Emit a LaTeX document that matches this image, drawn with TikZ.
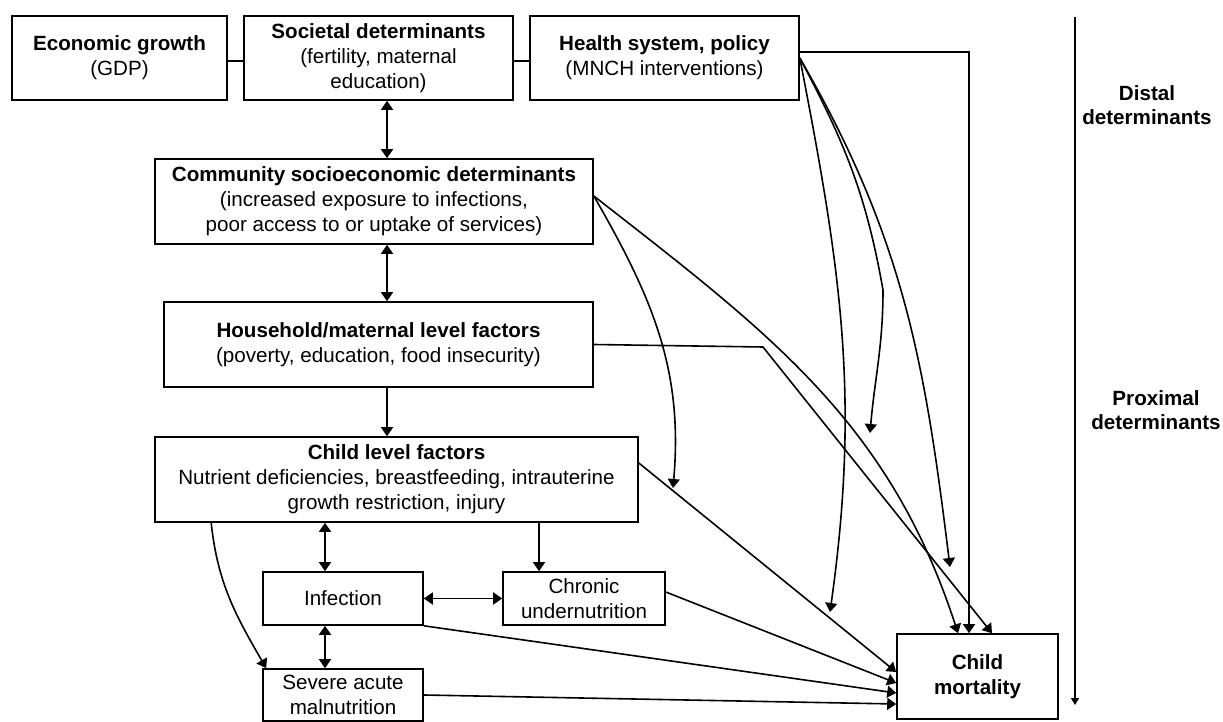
\documentclass[tikz,border=0pt]{standalone}
\usepackage{fontspec}
\setmainfont{Liberation Sans}
\usetikzlibrary{arrows.meta}

\begin{document}
\begin{tikzpicture}[x=0.5pt, y=-0.5pt, line width=0.8pt,
    box/.style={draw, align=center, inner sep=0pt, font=\fontsize{10.3}{12.5}\selectfont},
    lbl/.style={align=center, inner sep=0pt, font=\fontsize{10.3}{12}\selectfont\bfseries},
    onearrow/.style={-{Triangle[length=4.5pt,width=6pt]}},
    twoarrow/.style={{Triangle[length=4.5pt,width=6pt]}-{Triangle[length=4.5pt,width=6pt]}}]
  \useasboundingbox (0,0) rectangle (1223,722);
  % distal boxes
  \node[box, minimum width=107.5pt, minimum height=42pt] (econ) at (119.5,58) {\textbf{Economic growth}\\(GDP)};
  \node[box, minimum width=134.5pt, minimum height=42pt] (soc) at (378.5,58) {\textbf{Societal determinants}\\(fertility, maternal\\education)};
  \node[box, minimum width=134.5pt, minimum height=42pt] (health) at (664.5,58) {\textbf{Health system, policy}\\(MNCH interventions)};
  \node[box, minimum width=219pt, minimum height=42.5pt] (comm) at (374,201.5) {\textbf{Community socioeconomic determinants}\\(increased exposure to infections,\\poor access to or uptake of services)};
  \node[box, minimum width=214.5pt, minimum height=42.5pt] (house) at (378.5,344.5) {\textbf{Household/maternal level factors}\\(poverty, education, food insecurity)};
  % proximal boxes
  \node[box, minimum width=241.5pt, minimum height=42.5pt] (child) at (396.5,479.5) {\textbf{Child level factors}\\Nutrient deficiencies, breastfeeding, intrauterine\\growth restriction, injury};
  \node[box, minimum width=80pt, minimum height=26.5pt] (infect) at (343,598.5) {Infection};
  \node[box, minimum width=81pt, minimum height=26.5pt] (chronic) at (584,598.5) {Chronic\\undernutrition};
  \node[box, minimum width=80pt, minimum height=26pt] (severe) at (343,695) {Severe acute\\malnutrition};
  \node[box, minimum width=80.5pt, minimum height=42.5pt] (mort) at (977.5,676.5) {\textbf{Child}\\\textbf{mortality}};

  \coordinate (spine) at (387,0);
  \coordinate (lx) at (325,0);
  \coordinate (cx) at (539,0);
  \draw ([yshift=-1.5pt]econ.east) -- ([yshift=-1.5pt]soc.west);
  \draw ([yshift=-1.5pt]soc.east) -- ([yshift=-1.5pt]health.west);
  \draw[twoarrow] (soc.south -| spine) -- (comm.north -| spine);
  \draw[twoarrow] (comm.south -| spine) -- (house.north -| spine);
  \draw[onearrow] (house.south -| spine) -- (child.north -| spine);
  \draw[twoarrow] (child.south -| lx) -- (infect.north -| lx);
  \draw[twoarrow] (infect.south -| lx) -- (severe.north -| lx);
  \draw[onearrow] (child.south -| cx) -- (chronic.north -| cx);
  \draw[twoarrow] (infect) -- (chronic);
  \draw[onearrow] ([xshift=28.5pt]child.south west) to[out=-84,in=120] ([xshift=2pt]severe.north west);

  % into child mortality
  \draw[onearrow] ([yshift=8.25pt]child.east) -- ([yshift=2.25pt]mort.west);
  \draw[onearrow] ([yshift=3.25pt]chronic.east) -- ([yshift=-3.25pt]mort.west);
  \draw[onearrow] (infect.south east) -- ([yshift=-8.25pt]mort.west);
  \draw[onearrow] (severe.east) -- ([yshift=-13.75pt]mort.west);
  \coordinate (hk) at (763,347);
  \draw[onearrow] (house.east) -- (hk) -- ([xshift=7.25pt]mort.north);

  % community pathways
  \coordinate (cfan) at ([yshift=2.75pt]comm.east);
  \coordinate (kA) at (673,488);
  \draw[onearrow] (cfan) to[out=-60,in=85] (kA);
  \draw[onearrow] (cfan) to[out=-38,in=108] ([xshift=-9.75pt]mort.north);

  % health system pathways
  \coordinate (hfan) at (health.east);
  \coordinate (kB) at (883,290);
  \coordinate (kC) at (870,433);
  \coordinate (kD) at (830,612);
  \coordinate (kE) at (950,567);
  \draw[onearrow] (hfan) to[out=-79,in=82] (kD);
  \draw[onearrow] (hfan) to[out=-62,in=100] (kB) to[out=-90,in=85] (kC);
  \draw[onearrow] (hfan) to[out=-60,in=97] (kE);
  \draw[onearrow] ([yshift=3pt]health.east) -| ([xshift=-4.25pt]mort.north);

  % distal to proximal
  \coordinate (dtop) at (1075,17);
  \coordinate (dbot) at (1075,705);
  \draw[line width=0.6pt, -{Triangle[length=3.5pt,width=4pt]}] (dtop) -- (dbot);
  \node[lbl] (distal) at (1147,105) {Distal\\determinants};
  \node[lbl] (proximal) at (1156,410) {Proximal\\determinants};
\end{tikzpicture}
\end{document}
